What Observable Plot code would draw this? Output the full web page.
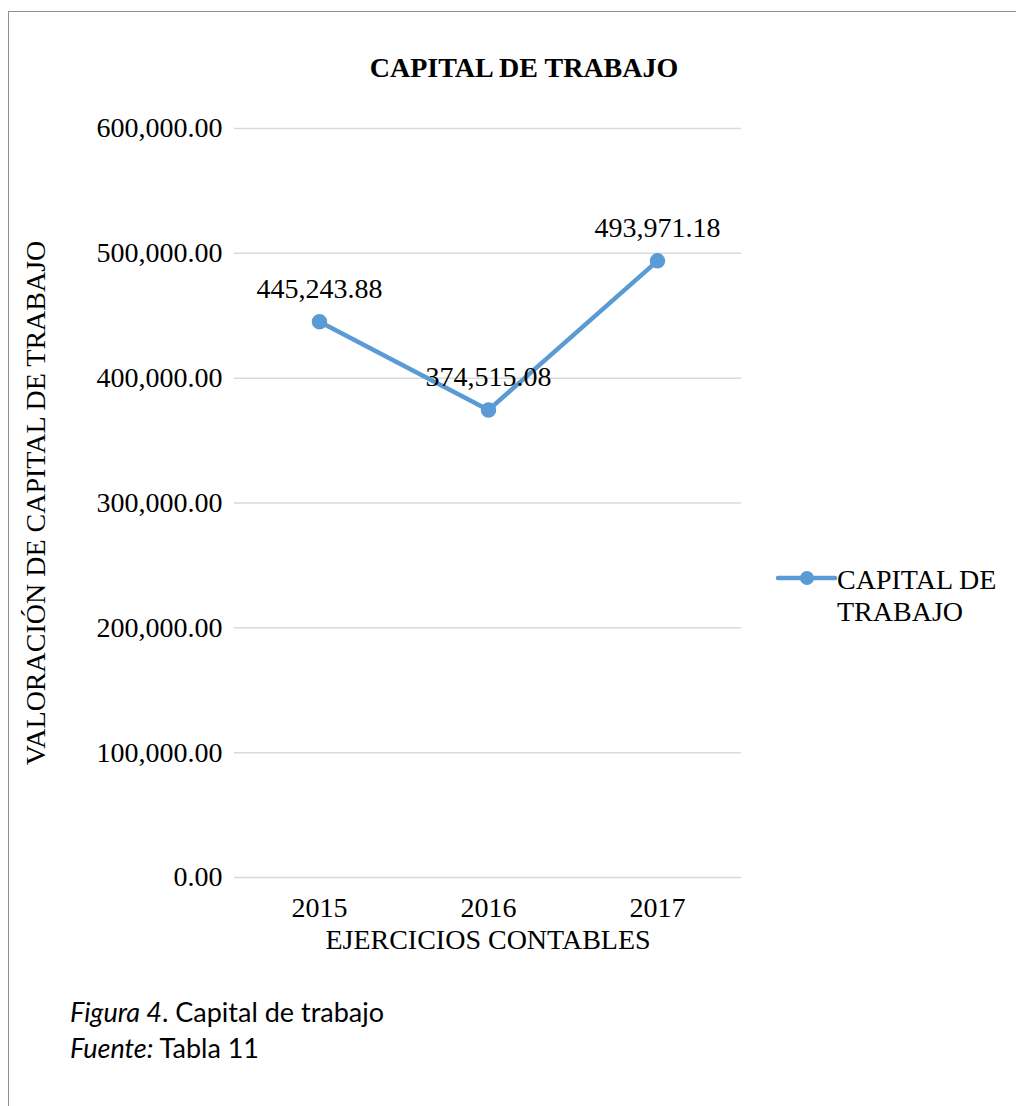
<!DOCTYPE html>
<html>
<head>
<meta charset="utf-8">
<script src="https://cdn.jsdelivr.net/npm/d3@7"></script>
<script src="https://cdn.jsdelivr.net/npm/@observablehq/plot@0.6"></script>
<style>
  html, body { margin: 0; padding: 0; background: #fff; }
  #wrap { position: relative; width: 1016px; height: 1106px; overflow: hidden; }
  #chart { position: absolute; left: 0; top: 0; }
  .abs { position: absolute; white-space: nowrap; font-family: "Liberation Serif", "Times New Roman", serif; font-size: 28px; line-height: 28px; color: #000; }
  #frame { position: absolute; left: 8px; top: 11px; width: 1100px; height: 1200px; border-left: 1.5px solid #8f8f8f; border-top: 1.5px solid #8f8f8f; }
  .cap { position: absolute; white-space: nowrap; font-family: "Lato", "Open Sans", sans-serif; font-size: 27px; line-height: 27px; color: #000; }
</style>
</head>
<body>
<div id="wrap">
  <div id="frame"></div>
  <div id="chart"></div>
  <div class="abs" id="title" style="left:524px; top:54px; transform:translateX(-50%); font-weight:bold;"></div>
  <div class="abs" id="ylabel" style="left:36px; top:503px; transform:translate(-50%,-50%) rotate(-90deg);"></div>
  <svg class="abs" style="left:776px; top:568px;" width="62" height="20" id="legsym"></svg>
  <div class="abs" id="legtext" style="left:837px; top:564px; line-height:32px; white-space:normal; width:170px;"></div>
  <div class="cap" id="cap1" style="left:70px; top:998px;"></div>
  <div class="cap" id="cap2" style="left:70px; top:1034px;"></div>
</div>
<script>
// ---- data ----
const years = ["2015", "2016", "2017"];
const values = [445243.88, 374515.08, 493971.18];
const yTicks = [0, 100000, 200000, 300000, 400000, 500000, 600000];
const seriesName = "CAPITAL DE TRABAJO";
const titleText = "CAPITAL DE TRABAJO";
const yLabel = "VALORACIÓN DE CAPITAL DE TRABAJO";
const xLabel = "EJERCICIOS CONTABLES";

const data = years.map((y, i) => ({year: y, value: values[i]}));
const fmt = d3.format(",.2f");
const blue = "#5B9BD5";

const plot = Plot.plot({
  width: 1016,
  height: 1106,
  marginLeft: 234,
  marginRight: 275,
  marginTop: 128,
  marginBottom: 229,
  style: {fontFamily: "'Liberation Serif', 'Times New Roman', serif", fontSize: "28px", color: "#000", background: "transparent", overflow: "visible"},
  x: {type: "point", domain: years, padding: 0.5},
  y: {domain: [0, 600000]},
  marks: [
    Plot.gridY(yTicks, {stroke: "#d9d9d9", strokeOpacity: 1, strokeWidth: 1.5}),
    Plot.axisY(yTicks, {tickSize: 0, tickPadding: 12, tickFormat: fmt, label: null, fontSize: 28}),
    Plot.axisX({tickSize: 0, tickPadding: 20, label: null, fontSize: 28}),
    Plot.text([xLabel], {frameAnchor: "bottom", dy: 71, fontSize: 28}),
    Plot.line(data, {x: "year", y: "value", stroke: blue, strokeWidth: 4.5}),
    Plot.dot(data, {x: "year", y: "value", r: 7, fill: blue, stroke: blue}),
    Plot.text(data, {x: "year", y: "value", text: d => fmt(d.value), dy: -33, fontSize: 28, fill: "#000"})
  ]
});
document.getElementById("chart").appendChild(plot);

document.getElementById("title").textContent = titleText;
document.getElementById("ylabel").textContent = yLabel;
document.getElementById("legtext").textContent = seriesName;
document.getElementById("cap1").innerHTML = "<i>Figura 4</i>. Capital de trabajo";
document.getElementById("cap2").innerHTML = "<i>Fuente:</i> Tabla 11";

// legend symbol
const sym = d3.select("#legsym");
sym.append("line").attr("x1", 2).attr("x2", 59).attr("y1", 10).attr("y2", 10)
  .attr("stroke", blue).attr("stroke-width", 4.5).attr("stroke-linecap", "round");
sym.append("circle").attr("cx", 31).attr("cy", 10).attr("r", 7).attr("fill", blue);
</script>
</body>
</html>
